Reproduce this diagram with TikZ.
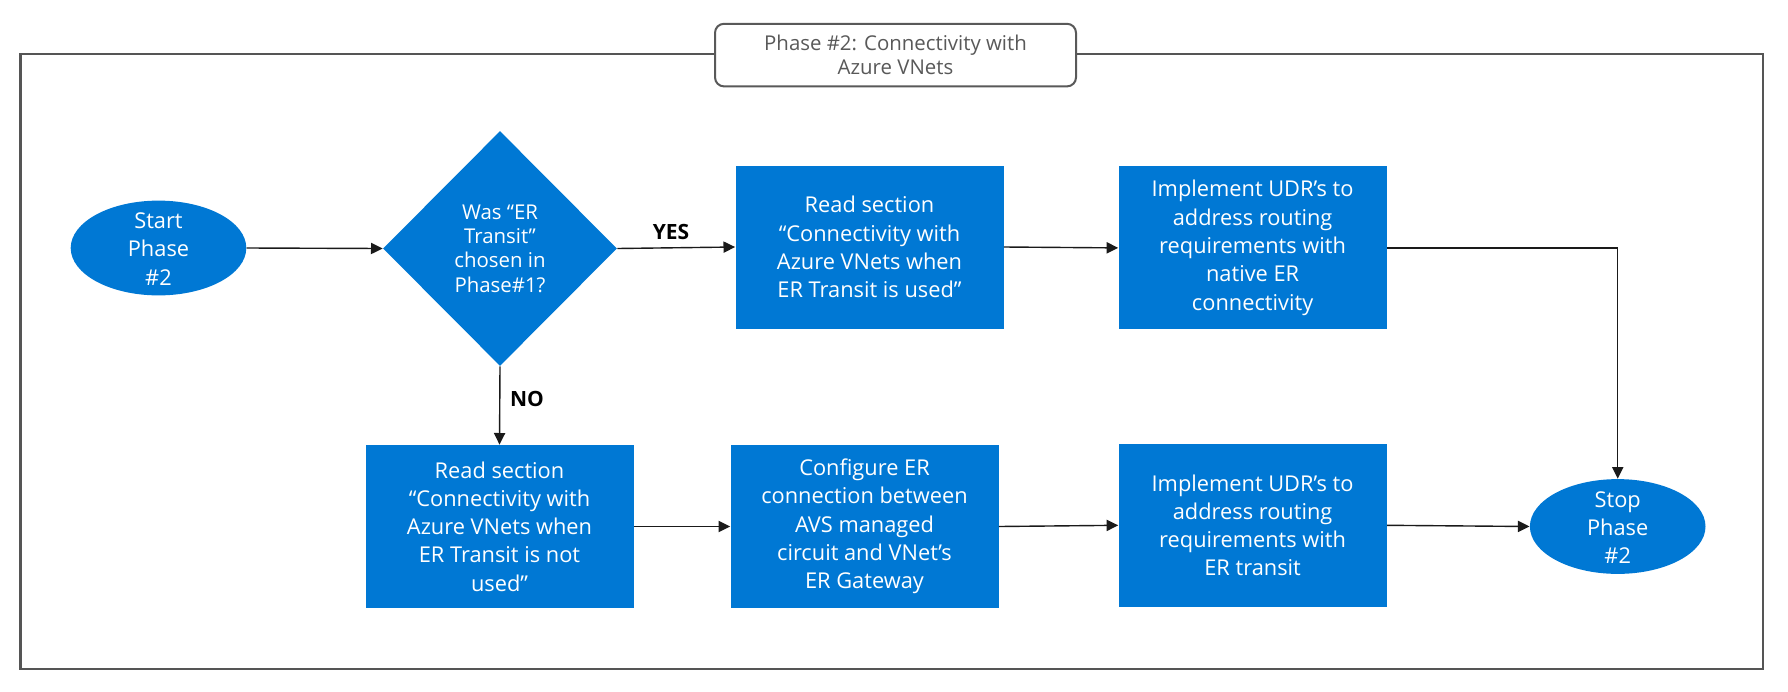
\documentclass[tikz,border=0pt]{standalone}
\usepackage{fontspec}
\setmainfont{Open Sans}
\usetikzlibrary{shapes.geometric,arrows.meta}
\definecolor{azblue}{HTML}{0078D4}
\definecolor{framegray}{HTML}{555555}
\definecolor{titlegray}{HTML}{595959}
\definecolor{linegray}{HTML}{1A1A1A}
\begin{document}
\begin{tikzpicture}[x=0.5pt,y=-0.5pt,
  boxtxt/.style={font=\fontsize{10.9pt}{14.15pt}\selectfont},
  stepbox/.style={rectangle, fill=azblue, draw=none, minimum width=134pt, minimum height=81.5pt,
    text=white, align=center, inner sep=0pt, boxtxt},
  term/.style={ellipse, fill=azblue, draw=none, minimum width=87.8pt, minimum height=47.4pt, inner sep=0pt},
  termtext/.style={text=white, align=center, inner sep=0pt, boxtxt},
  decision/.style={diamond, fill=azblue, draw=none, minimum width=117pt, minimum height=117.5pt,
    text=white, align=center, inner sep=0pt, font=\fontsize{10.2pt}{12.15pt}\selectfont},
  conn/.style={draw=linegray, line width=0.7pt, -{Triangle[length=5.8pt,width=5.6pt]}},
  lab/.style={font=\bfseries\fontsize{10.5pt}{12pt}\selectfont, text=black, inner sep=0pt},
  titlebox/.style={rectangle, rounded corners=4.5pt, draw=titlegray, line width=1pt, fill=white,
    minimum width=180.5pt, minimum height=31.3pt, text=titlegray, align=center, inner sep=0pt,
    font=\fontsize{10.2pt}{12.15pt}\selectfont},
]
\useasboundingbox (0,0) rectangle (1788,691);
% outer frame
\draw[framegray, line width=1.2pt] (20.5,54.2) rectangle (1763,669);
\node[titlebox] (title) at (895.5,55.1) {Phase \#2: Connectivity with\\Azure VNets};

% nodes
\node[term] (start) at (158.5,248) {};
\node[termtext] (starttext) at (158.5,249) {Start\\Phase\\\#2};
\node[decision] (dec) at (500,248.5) {Was “ER\\Transit”\\chosen in\\Phase\#1?};
\node[stepbox] (box1) at (869.5,247) {Read section\\“Connectivity with\\Azure VNets when\\ER Transit is used”};
\node[stepbox] (box2) at (1252.6,247.9) {Implement UDR’s to\\address routing\\requirements with\\native ER\\connectivity};
\node[stepbox] (box3) at (499.5,526.5) {Read section\\“Connectivity with\\Azure VNets when\\ER Transit is not\\used”};
\node[stepbox] (box4) at (864.5,526.5) {Configure ER\\connection between\\AVS managed\\circuit and VNet’s\\ER Gateway};
\node[stepbox] (box5) at (1252.6,525.3) {Implement UDR’s to\\address routing\\requirements with\\ER transit};
\node[term] (stop) at (1617.7,526.5) {};
\node[termtext] (stoptext) at (1617.7,527.5) {Stop\\Phase\\\#2};

% labels
\node[lab] (yes) at (671,231.5) {YES};
\node[lab] (no) at (527,399) {NO};

% connectors
\draw[conn] (start.east) -- (dec.west);
\draw[conn] (dec.east) -- (box1.west);
\draw[conn] (box1.east) -- (box2.west);
\draw[conn] (box2.east) -| (stop.north);
\draw[conn] (dec.south) -- (box3.north);
\draw[conn] (box3.east) -- (box4.west);
\draw[conn] (box4.east) -- (box5.west);
\draw[conn] (box5.east) -- (stop.west);
\end{tikzpicture}
\end{document}
